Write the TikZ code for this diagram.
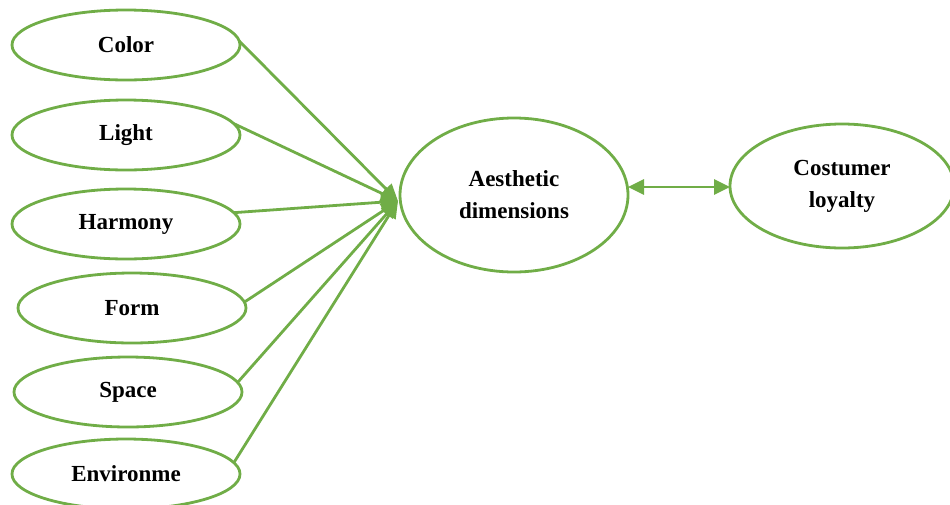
\documentclass[tikz,border=0pt]{standalone}
\usepackage{fontspec}
\setmainfont{Liberation Serif}
\usetikzlibrary{shapes.geometric,arrows.meta}
\definecolor{lgreen}{HTML}{70AD47}
\begin{document}
\begin{tikzpicture}[x=1pt,y=-1pt,
  oval/.style={draw=lgreen,line width=2.8pt,ellipse,inner sep=0pt,outer sep=0pt,
    minimum width=228pt,minimum height=70pt,font=\fontsize{23}{32}\selectfont\bfseries,align=center},
  link/.style={draw=lgreen,line width=2.8pt,-{Triangle[length=17pt,width=15pt]}},
  dlink/.style={draw=lgreen,line width=2.8pt,{Triangle[length=16pt,width=15pt]}-{Triangle[length=16pt,width=15pt]}}]
\useasboundingbox (0,0) rectangle (950,504);
\node[oval] (color) at (126,45) {Color};
\node[oval] (light) at (126,135) {Light};
\node[oval] (harmony) at (126,224) {Harmony};
\node[oval] (form) at (132,308) {Form};
\node[oval] (space) at (128,392) {Space};
\node[oval] (env) at (126,474) {Environme};
\node[oval,minimum width=228pt,minimum height=154pt] (aes) at (514,195) {Aesthetic\\dimensions};
\node[oval,minimum width=224pt,minimum height=124pt] (loy) at (842,186) {Costumer\\loyalty};
\coordinate (tip) at (398,201);
\draw[link] (color.2) -- (tip);
\draw[link] (light.6) -- (tip);
\draw[link] (harmony.6) -- (tip);
\draw[link] (form.3) -- (tip);
\draw[link] (space.5) -- (tip);
\draw[link] (env.6) -- (tip);
\draw[dlink] (aes.east |- 0,187) -- (loy.west |- 0,187);
\end{tikzpicture}
\end{document}
